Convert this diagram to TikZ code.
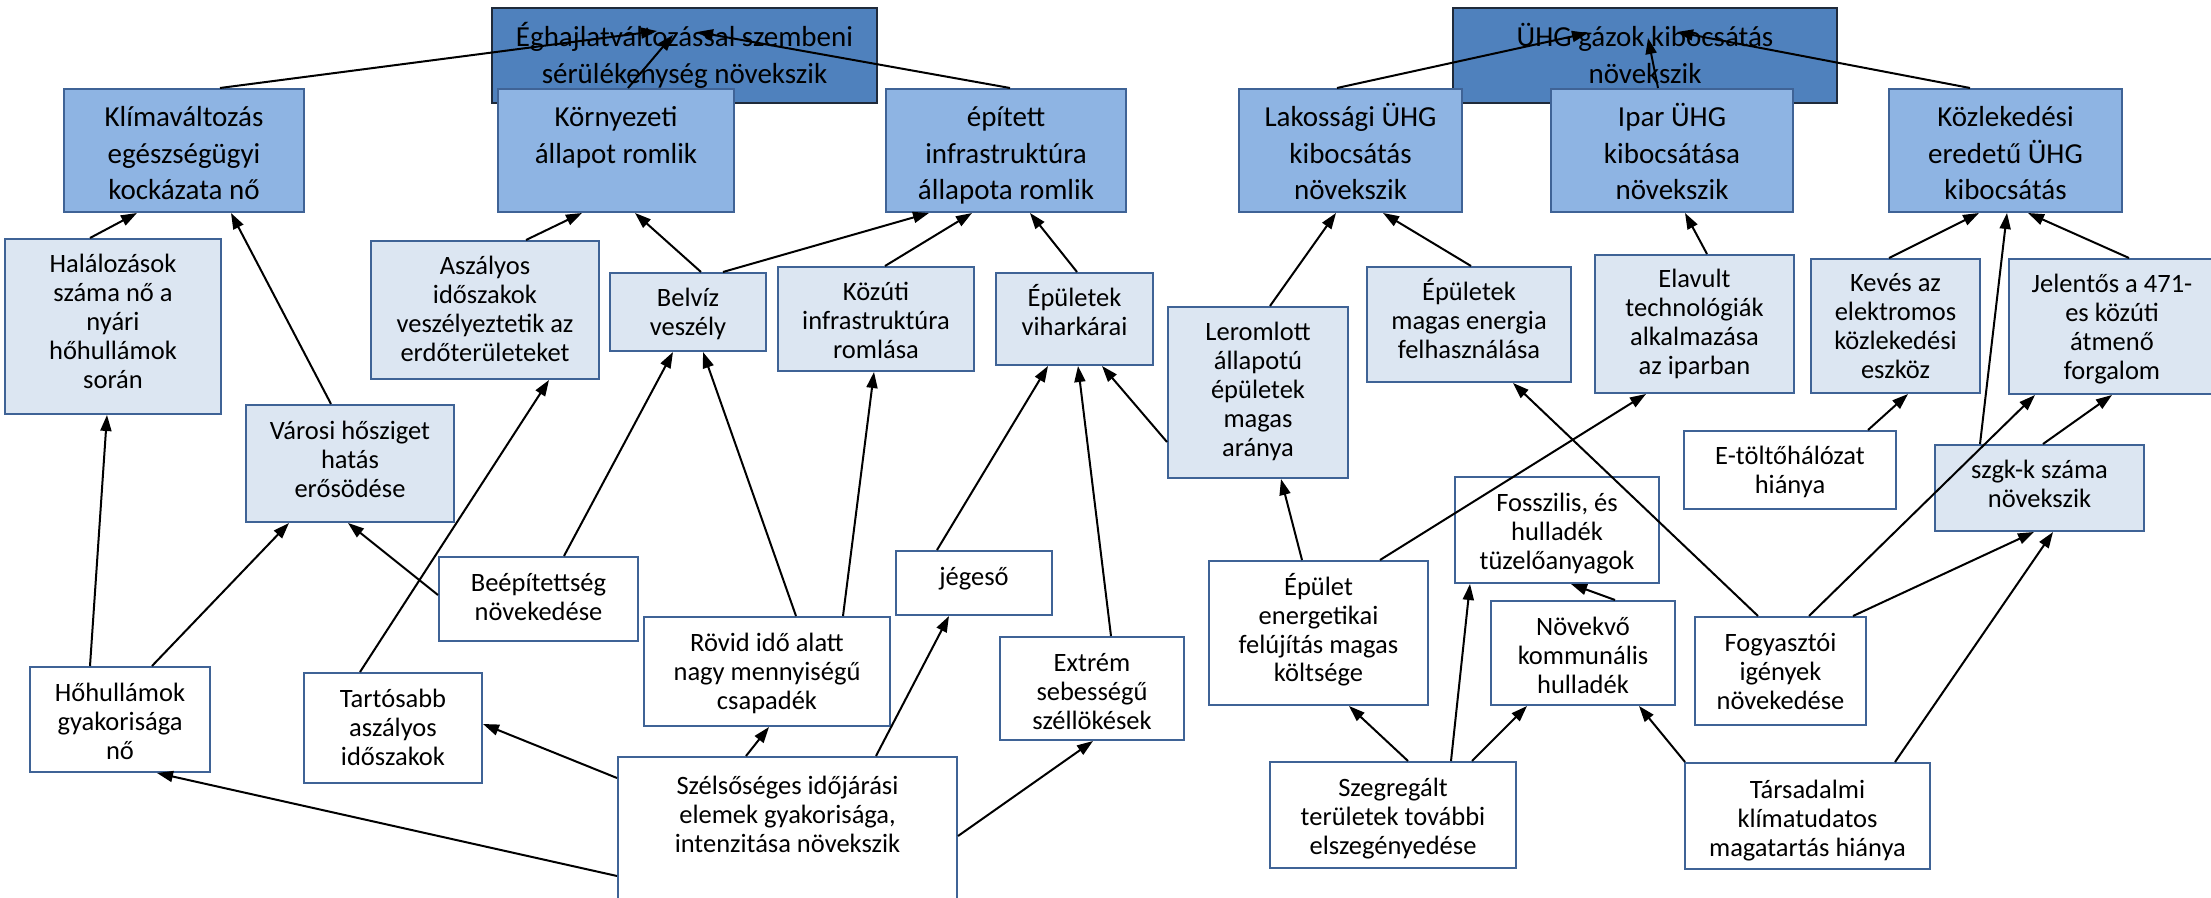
\documentclass[tikz,border=0pt]{standalone}
\usepackage{fontspec}
\setmainfont{Carlito}
\usetikzlibrary{arrows.meta,calc}
\definecolor{darkfill}{HTML}{4F81BD}
\definecolor{darkline}{HTML}{1F2A3A}
\definecolor{midfill}{HTML}{8EB4E3}
\definecolor{lightfill}{HTML}{DCE6F2}
\definecolor{boxline}{HTML}{3F6396}
\tikzset{
 basebox/.style={rectangle, inner sep=0pt, line width=1pt},
 darkbox/.style={basebox, fill=darkfill, draw=darkline},
 midbox/.style={basebox, fill=midfill, draw=boxline},
 lightbox/.style={basebox, fill=lightfill, draw=boxline},
 whitebox/.style={basebox, fill=white, draw=boxline},
 smalltxt/.style={inner sep=0pt, font=\fontsize{13.25}{14.5}\selectfont},
 bigtxt/.style={inner sep=0pt, font=\fontsize{14.5}{18.25}\selectfont},
 arr/.style={line width=1pt, -{Triangle[length=8pt 0,width=5.5pt 0]}},
}
% #1 style, #2 name, #3 x, #4 y, #5 w, #6 h, #7 text style, #8 baseline offset, #9 text
\newcommand\mkbox[9]{%
 \node[#1, minimum width=#5*0.5pt, minimum height=#6*0.5pt, anchor=north west] (#2) at (#3,#4) {};
 \node[#7, anchor=base] (#2-t) at ($(#2.north)+(0,#8)$) {\parbox[t]{\dimexpr #5pt/2\relax}{\centering #9}};
}
\begin{document}
\begin{tikzpicture}[x=0.5pt,y=-0.5pt]
\useasboundingbox (0,0) rectangle (2211,898);
\fill[white] (0,0) rectangle (2211,898);
% top level
\mkbox{darkbox}{eg}{491}{7}{385}{95}{bigtxt}{40}{Éghajlatváltozással szembeni\\sérülékenység növekszik}
\mkbox{darkbox}{uhg}{1452}{7}{384}{95}{bigtxt}{40}{ÜHG gázok kibocsátás\\növekszik}
% level 1
\mkbox{midbox}{klima}{63}{88}{240}{123}{bigtxt}{39}{Klímaváltozás\\egészségügyi\\kockázata nő}
\mkbox{midbox}{korny}{497}{88}{236}{123}{bigtxt}{39}{Környezeti\\állapot romlik}
\mkbox{midbox}{epitett}{885}{88}{240}{123}{bigtxt}{39}{épített\\infrastruktúra\\állapota romlik}
\mkbox{midbox}{lakos}{1238}{88}{223}{123}{bigtxt}{39}{Lakossági ÜHG\\kibocsátás\\növekszik}
\mkbox{midbox}{ipar}{1550}{88}{242}{123}{bigtxt}{39}{Ipar ÜHG\\kibocsátása\\növekszik}
\mkbox{midbox}{kozl}{1888}{88}{233}{123}{bigtxt}{39}{Közlekedési\\eredetű ÜHG\\kibocsátás}
% light boxes
\mkbox{lightbox}{halal}{4}{238}{216}{175}{smalltxt}{35}{Halálozások\\száma nő a\\nyári\\hőhullámok\\során}
\mkbox{lightbox}{aszaly}{370}{240}{228}{138}{smalltxt}{35}{Aszályos\\időszakok\\veszélyeztetik az\\erdőterületeket}
\mkbox{lightbox}{belviz}{609}{272}{156}{78}{smalltxt}{35}{Belvíz\\veszély}
\mkbox{lightbox}{kozuti}{777}{266}{196}{104}{smalltxt}{35}{Közúti\\infrastruktúra\\romlása}
\mkbox{lightbox}{vihar}{995}{272}{157}{92}{smalltxt}{35}{Épületek\\viharkárai}
\mkbox{lightbox}{lerom}{1167}{306}{180}{171}{smalltxt}{35}{Leromlott\\állapotú\\épületek\\magas\\aránya}
\mkbox{lightbox}{varosi}{245}{404}{208}{117}{smalltxt}{35}{Városi hősziget\\hatás\\erősödése}
\mkbox{lightbox}{energia}{1366}{266}{204}{115}{smalltxt}{35}{Épületek\\magas energia\\felhasználása}
\mkbox{lightbox}{elavult}{1594}{254}{199}{138}{smalltxt}{34}{Elavult\\technológiák\\alkalmazása\\az iparban}
\mkbox{lightbox}{keves}{1810}{258}{169}{134}{smalltxt}{34}{Kevés az\\elektromos\\közlekedési\\eszköz}
\mkbox{lightbox}{jelentos}{2008}{258}{206}{135}{smalltxt}{35}{Jelentős a 471-\\es közúti\\átmenő\\forgalom}
\mkbox{lightbox}{szgk}{1934}{444}{209}{86}{smalltxt}{35}{szgk-k száma\\növekszik}
% white boxes
\mkbox{whitebox}{beep}{438}{556}{199}{84}{smalltxt}{35}{Beépítettség\\növekedése}
\mkbox{whitebox}{jeges}{895}{550}{156}{64}{smalltxt}{35}{jégeső}
\mkbox{whitebox}{rovid}{643}{616}{246}{109}{smalltxt}{35}{Rövid idő alatt\\nagy mennyiségű\\csapadék}
\mkbox{whitebox}{extrem}{999}{636}{184}{103}{smalltxt}{35}{Extrém\\sebességű\\széllökések}
\mkbox{whitebox}{hohull}{29}{666}{180}{105}{smalltxt}{35}{Hőhullámok\\gyakorisága\\nő}
\mkbox{whitebox}{tartos}{303}{672}{178}{110}{smalltxt}{35}{Tartósabb\\aszályos\\időszakok}
\mkbox{whitebox}{szels}{617}{756}{339}{146}{smalltxt}{38}{Szélsőséges időjárási\\elemek gyakorisága,\\intenzitása növekszik}
\mkbox{whitebox}{fossz}{1454}{476}{204}{106}{smalltxt}{35}{Fosszilis, és\\hulladék\\tüzelőanyagok}
\mkbox{whitebox}{etolto}{1683}{430}{212}{78}{smalltxt}{35}{E-töltőhálózat\\hiánya}
\mkbox{whitebox}{epulet}{1208}{560}{219}{144}{smalltxt}{35}{Épület\\energetikai\\felújítás magas\\költsége}
\mkbox{whitebox}{novekvo}{1490}{600}{184}{104}{smalltxt}{35}{Növekvő\\kommunális\\hulladék}
\mkbox{whitebox}{fogy}{1694}{616}{171}{108}{smalltxt}{35}{Fogyasztói\\igények\\növekedése}
\mkbox{whitebox}{szegr}{1269}{761}{246}{106}{smalltxt}{35}{Szegregált\\területek további\\elszegényedése}
\mkbox{whitebox}{tars}{1684}{762}{245}{106}{smalltxt}{36}{Társadalmi\\klímatudatos\\magatartás hiánya}
% arrows to top boxes
\draw[arr] ($(klima.north west)+(157,0)$) -- ($(eg.north west)+(166,24)$);
\draw[arr] ($(korny.north west)+(131,0)$) -- ($(eg.north west)+(182,28)$);
\draw[arr] ($(epitett.north west)+(125,0)$) -- ($(eg.north west)+(206,25)$);
\draw[arr] ($(lakos.north west)+(99,0)$) -- ($(uhg.north west)+(136,26)$);
\draw[arr] ($(ipar.north west)+(108,0)$) -- ($(uhg.north west)+(196,31)$);
\draw[arr] ($(kozl.north west)+(82,0)$) -- ($(uhg.north west)+(225,25)$);
% level 2 -> level 1
\draw[arr] ($(halal.north west)+(86,0)$) -- ($(klima.south west)+(74,0)$);
\draw[arr] ($(varosi.north west)+(86,0)$) -- ($(klima.south west)+(168,0)$);
\draw[arr] ($(aszaly.north west)+(156,0)$) -- ($(korny.south west)+(85,0)$);
\draw[arr] ($(belviz.north west)+(92,0)$) -- ($(korny.south west)+(138,0)$);
\draw[arr] ($(belviz.north west)+(114,0)$) -- ($(epitett.south west)+(44,0)$);
\draw[arr] ($(kozuti.north west)+(108,0)$) -- ($(epitett.south west)+(87,0)$);
\draw[arr] ($(vihar.north west)+(82,0)$) -- ($(epitett.south west)+(145,0)$);
\draw[arr] ($(lerom.north west)+(103,0)$) -- ($(lakos.south west)+(98,0)$);
\draw[arr] ($(energia.north west)+(105,0)$) -- ($(lakos.south west)+(145,0)$);
\draw[arr] ($(elavult.north west)+(113,0)$) -- ($(ipar.south west)+(135,0)$);
\draw[arr] ($(keves.north west)+(79,0)$) -- ($(kozl.south west)+(91,0)$);
\draw[arr] ($(szgk.north west)+(46,0)$) -- ($(kozl.south west)+(119,0)$);
\draw[arr] ($(jelentos.north west)+(121,0)$) -- ($(kozl.south west)+(140,0)$);
% level 3 left
\draw[arr] ($(hohull.north west)+(61,0)$) -- ($(halal.south west)+(103,0)$);
\draw[arr] ($(hohull.north west)+(123,0)$) -- ($(varosi.south west)+(44,0)$);
\draw[arr] ($(beep.north west)+(0,39)$) -- ($(varosi.south west)+(103,0)$);
\draw[arr] ($(tartos.north west)+(57,0)$) -- ($(aszaly.south west)+(179,0)$);
\draw[arr] ($(beep.north west)+(126,0)$) -- ($(belviz.south west)+(64,0)$);
\draw[arr] ($(rovid.north west)+(153,0)$) -- ($(belviz.south west)+(94,0)$);
\draw[arr] ($(rovid.north west)+(200,0)$) -- ($(kozuti.south west)+(97,0)$);
\draw[arr] ($(jeges.north west)+(42,0)$) -- ($(vihar.south west)+(53,0)$);
\draw[arr] ($(extrem.north west)+(112,0)$) -- ($(vihar.south west)+(83,0)$);
\draw[arr] ($(lerom.north west)+(0,136)$) -- ($(vihar.south west)+(107,0)$);
\draw[arr] ($(szels.north west)+(0,120)$) -- ($(hohull.south west)+(128,0)$);
\draw[arr] ($(szels.north west)+(0,22)$) -- ($(tartos.north east)+(0,52)$);
\draw[arr] ($(szels.north west)+(129,0)$) -- ($(rovid.south west)+(126,0)$);
\draw[arr] ($(szels.north west)+(259,0)$) -- ($(jeges.south west)+(54,0)$);
\draw[arr] ($(szels.north east)+(0,80)$) -- ($(extrem.south west)+(94,0)$);
% level 3 right
\draw[arr] ($(epulet.north west)+(94,0)$) -- ($(lerom.south west)+(114,0)$);
\draw[arr] ($(epulet.north west)+(172,0)$) -- ($(elavult.south west)+(52,0)$);
\draw[arr] ($(fogy.north west)+(64,0)$) -- ($(energia.south west)+(147,0)$);
\draw[arr] ($(fogy.north west)+(115,0)$) -- ($(jelentos.south west)+(27,0)$);
\draw[arr] ($(fogy.north west)+(159,0)$) -- ($(szgk.south west)+(100,0)$);
\draw[arr] ($(etolto.north west)+(185,0)$) -- ($(keves.south west)+(98,0)$);
\draw[arr] ($(szgk.north west)+(109,0)$) -- ($(jelentos.south west)+(104,0)$);
\draw[arr] ($(tars.north west)+(211,0)$) -- ($(szgk.south west)+(119,0)$);
\draw[arr] ($(novekvo.north west)+(125,0)$) -- ($(fossz.south west)+(117,0)$);
\draw[arr] ($(szegr.north west)+(139,0)$) -- ($(epulet.south west)+(141,0)$);
\draw[arr] ($(szegr.north west)+(182,0)$) -- ($(fossz.south west)+(16,0)$);
\draw[arr] ($(szegr.north west)+(203,0)$) -- ($(novekvo.south west)+(37,0)$);
\draw[arr] ($(tars.north west)+(1,0)$) -- ($(novekvo.south west)+(149,0)$);
\end{tikzpicture}
\end{document}
